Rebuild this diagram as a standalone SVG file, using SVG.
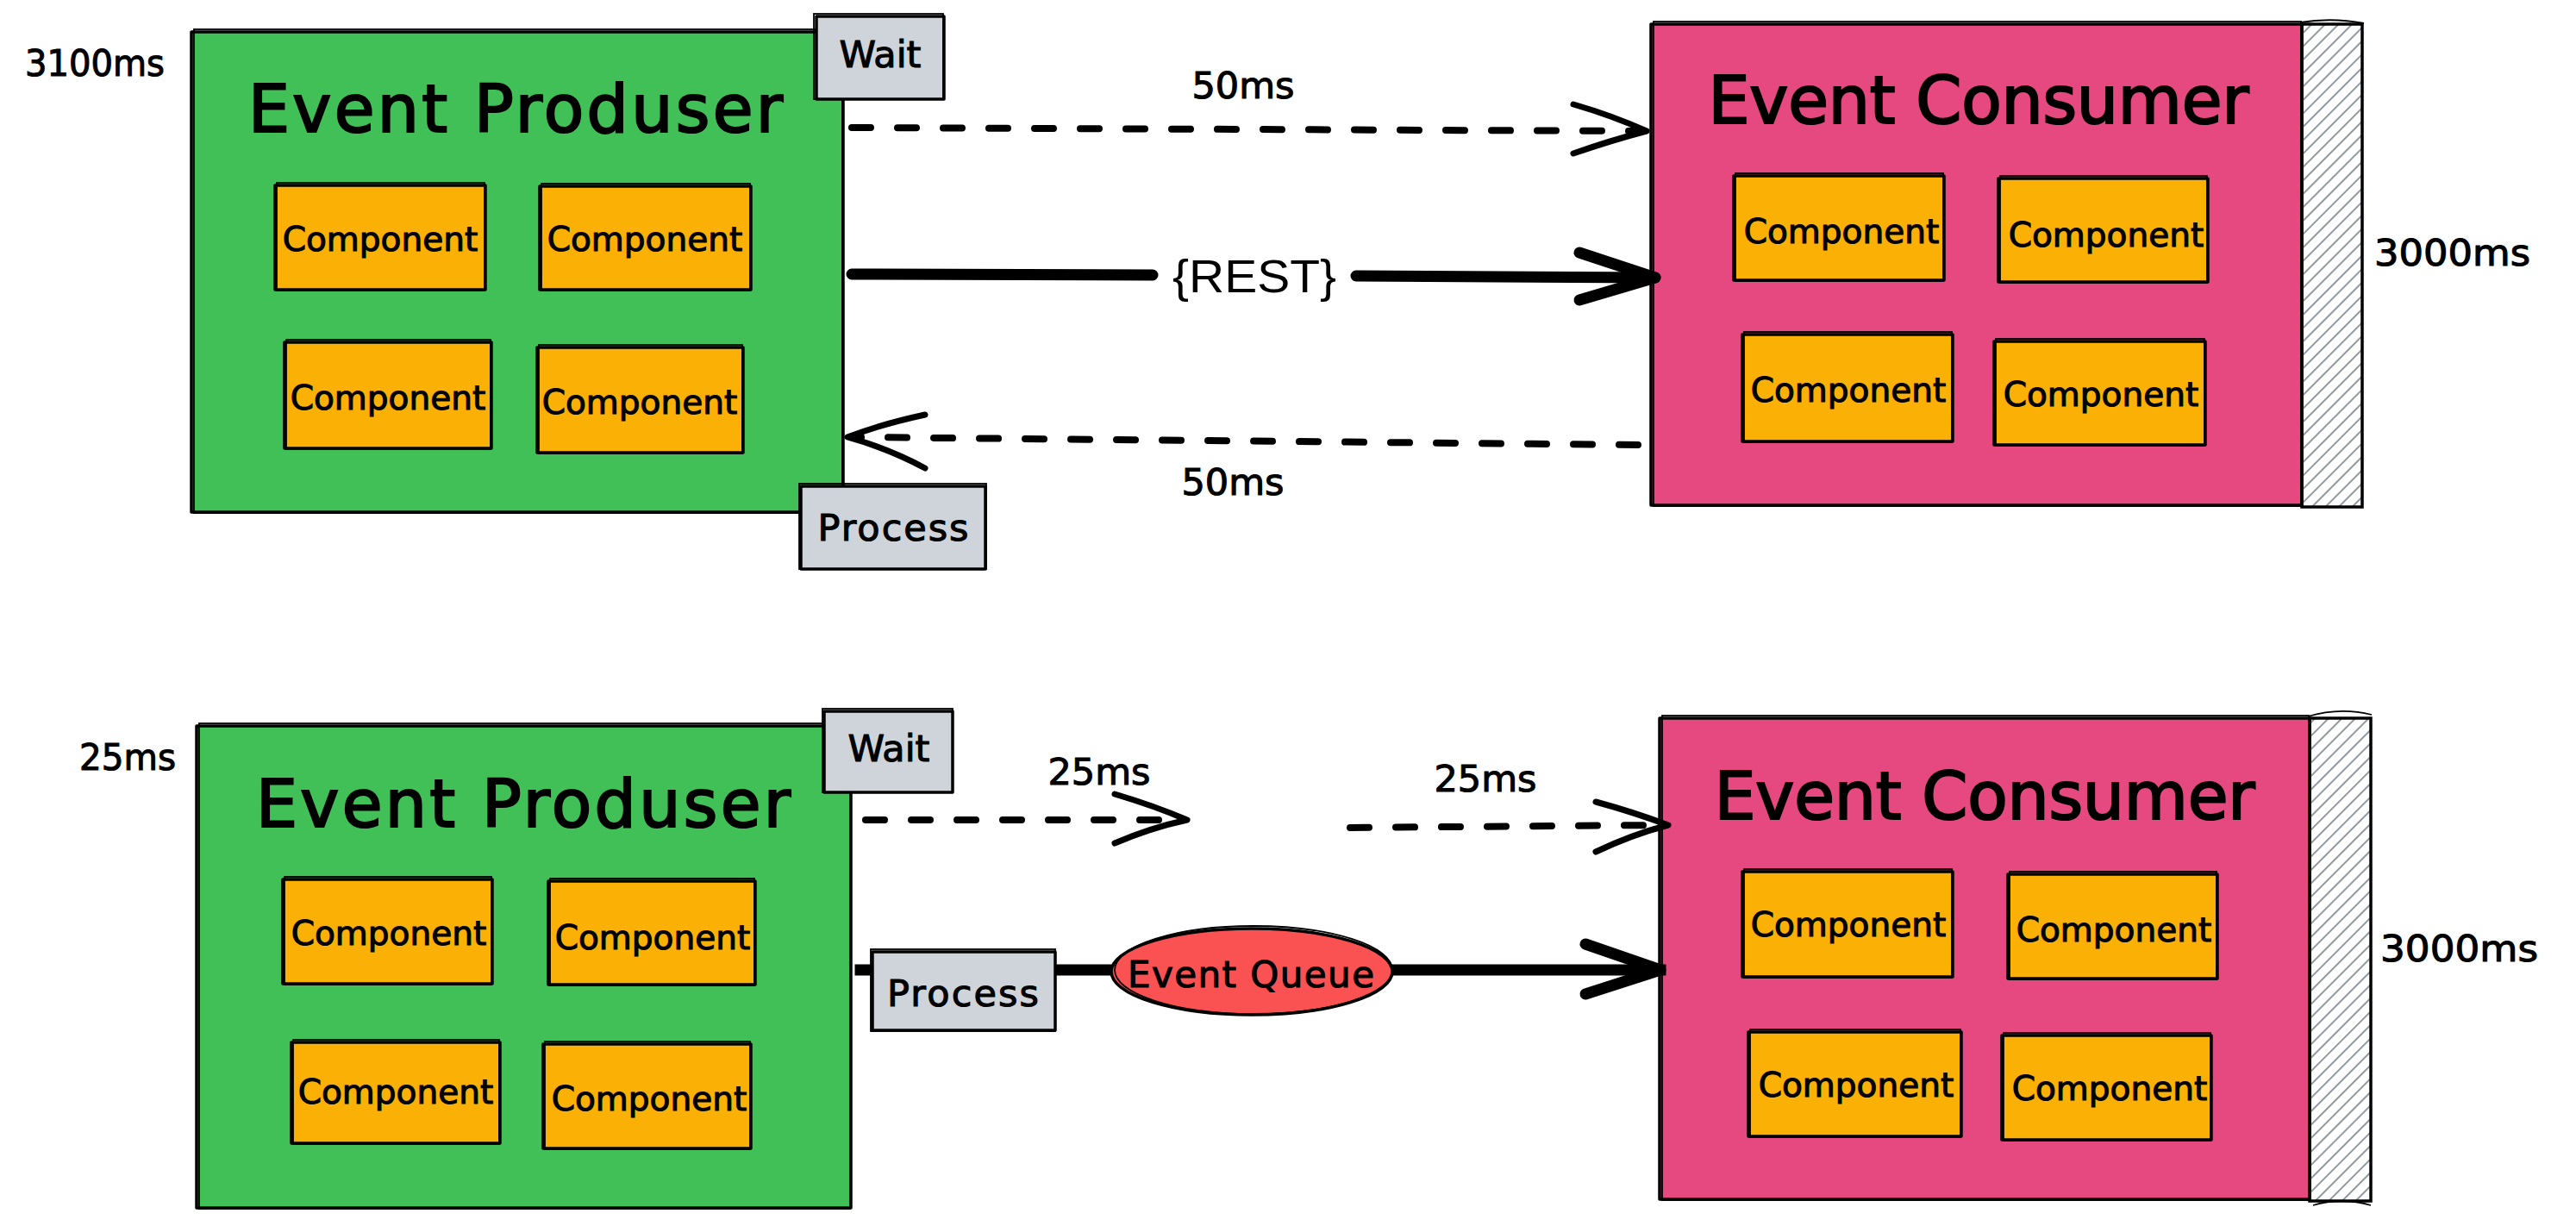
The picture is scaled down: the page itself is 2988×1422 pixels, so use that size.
<svg xmlns="http://www.w3.org/2000/svg" width="2988" height="1422" viewBox="0 0 2988 1422">
<defs>
<pattern id="hatch" patternUnits="userSpaceOnUse" width="11" height="11" patternTransform="rotate(45)">
<line x1="2" y1="0" x2="2" y2="11" stroke="#868e96" stroke-width="1.8"/>
</pattern>
</defs>
<style>
.s{stroke:#000;stroke-width:3.5;stroke-linejoin:round}
.o{fill:none;stroke:#000;stroke-width:1.8}
.green{fill:#40c057}
.pink{fill:#e64980}
.orange{fill:#fab005}
.gray{fill:#ced4da}
.red{fill:#fa5252}
.hatch{fill:url(#hatch)}
.t{font-family:"DejaVu Sans",sans-serif;fill:#000;stroke:#000;stroke-width:1.1;text-anchor:middle}
.title{font-size:76px;stroke-width:2.2}
.comp{font-size:39px}
.lbl{font-size:43px}
.ms{font-size:43px}
.start{text-anchor:start}
.rest{font-family:"Liberation Sans",Arial,sans-serif;font-size:54px;fill:#000;text-anchor:middle}
.dash{fill:none;stroke:#000;stroke-width:8;stroke-linecap:round;stroke-dasharray:22 31}
.thin{fill:none;stroke:#000;stroke-width:7;stroke-linecap:round;stroke-linejoin:round}
.thick{fill:none;stroke:#000;stroke-width:13;stroke-linecap:round;stroke-linejoin:round}
</style>
<rect width="2988" height="1422" fill="#fff"/>

<!-- ===== Top section ===== -->
<g id="producer-rest">
<rect class="green s" x="222" y="37" width="756" height="557"/>
<rect class="o" x="225" y="34" width="752" height="561"/>
<text class="t title" x="598" y="153" textLength="620" lengthAdjust="spacing">Event Produser</text>
</g>
<g id="producer-rest-comp1"><rect class="orange s" x="319" y="215" width="244" height="121"/><rect class="o" x="321" y="212" width="241" height="125"/><text class="t comp" x="441" y="291">Component</text></g>
<g id="producer-rest-comp2"><rect class="orange s" x="626" y="216" width="245" height="120"/><rect class="o" x="628" y="213" width="242" height="124"/><text class="t comp" x="748" y="291">Component</text></g>
<g id="producer-rest-comp3"><rect class="orange s" x="330" y="397" width="240" height="123"/><rect class="o" x="332" y="394" width="237" height="127"/><text class="t comp" x="450" y="475">Component</text></g>
<g id="producer-rest-comp4"><rect class="orange s" x="623" y="403" width="239" height="122"/><rect class="o" x="625" y="400" width="236" height="126"/><text class="t comp" x="742" y="480">Component</text></g>
<g id="label-3100ms"><text class="t ms start" x="29" y="88" textLength="162" lengthAdjust="spacingAndGlyphs">3100ms</text></g>

<g id="consumer-rest">
<rect class="pink s" x="1915" y="28" width="755" height="558"/>
<rect class="o" x="1918" y="25" width="751" height="562"/>
<rect class="hatch" x="2670" y="28" width="70" height="560"/>
<rect class="o" x="2670" y="28" width="70" height="560" style="stroke-width:3.5"/>
<path class="o" d="M2668,26 Q2705,20 2742,27"/>
<text class="t title" x="2295" y="143" textLength="627" lengthAdjust="spacing">Event Consumer</text>
</g>
<g id="consumer-rest-comp1"><rect class="orange s" x="2011" y="204" width="244" height="121"/><rect class="o" x="2013" y="201" width="241" height="125"/><text class="t comp" x="2136" y="282">Component</text></g>
<g id="consumer-rest-comp2"><rect class="orange s" x="2318" y="207" width="243" height="120"/><rect class="o" x="2320" y="204" width="240" height="124"/><text class="t comp" x="2443" y="286">Component</text></g>
<g id="consumer-rest-comp3"><rect class="orange s" x="2021" y="388" width="244" height="124"/><rect class="o" x="2023" y="385" width="241" height="128"/><text class="t comp" x="2144" y="466">Component</text></g>
<g id="consumer-rest-comp4"><rect class="orange s" x="2313" y="396" width="245" height="120"/><rect class="o" x="2315" y="393" width="242" height="124"/><text class="t comp" x="2437" y="471">Component</text></g>
<g id="label-3000ms-top"><text class="t ms start" x="2754" y="308" textLength="181" lengthAdjust="spacingAndGlyphs">3000ms</text></g>

<!-- ===== Bottom section ===== -->
<g id="producer-queue">
<rect class="green s" x="228" y="842" width="759" height="559"/>
<rect class="o" x="231" y="839" width="755" height="563"/>
<text class="t title" x="607" y="959" textLength="620" lengthAdjust="spacing">Event Produser</text>
</g>
<g id="producer-queue-comp1"><rect class="orange s" x="328" y="1020" width="243" height="121"/><rect class="o" x="330" y="1017" width="240" height="125"/><text class="t comp" x="451" y="1096">Component</text></g>
<g id="producer-queue-comp2"><rect class="orange s" x="636" y="1022" width="240" height="120"/><rect class="o" x="638" y="1019" width="237" height="124"/><text class="t comp" x="757" y="1101">Component</text></g>
<g id="producer-queue-comp3"><rect class="orange s" x="338" y="1209" width="242" height="117"/><rect class="o" x="340" y="1206" width="239" height="121"/><text class="t comp" x="459" y="1280">Component</text></g>
<g id="producer-queue-comp4"><rect class="orange s" x="630" y="1211" width="241" height="121"/><rect class="o" x="632" y="1208" width="238" height="125"/><text class="t comp" x="753" y="1288">Component</text></g>
<g id="label-25ms-left"><text class="t ms start" x="92" y="893" textLength="112" lengthAdjust="spacingAndGlyphs">25ms</text></g>

<g id="consumer-queue">
<rect class="pink s" x="1925" y="833" width="754" height="558"/>
<rect class="o" x="1928" y="830" width="750" height="562"/>
<rect class="hatch" x="2679" y="833" width="71" height="560"/>
<rect class="o" x="2679" y="833" width="71" height="560" style="stroke-width:3.5"/>
<path class="o" d="M2677,831 Q2714,820 2751,829"/>
<path class="o" d="M2683,1398 Q2716,1388 2750,1398"/>
<text class="t title" x="2302" y="950" textLength="627" lengthAdjust="spacing">Event Consumer</text>
</g>
<g id="consumer-queue-comp1"><rect class="orange s" x="2021" y="1011" width="244" height="122"/><rect class="o" x="2023" y="1008" width="241" height="126"/><text class="t comp" x="2144" y="1086">Component</text></g>
<g id="consumer-queue-comp2"><rect class="orange s" x="2329" y="1014" width="243" height="121"/><rect class="o" x="2331" y="1011" width="240" height="125"/><text class="t comp" x="2452" y="1092">Component</text></g>
<g id="consumer-queue-comp3"><rect class="orange s" x="2028" y="1197" width="247" height="121"/><rect class="o" x="2030" y="1194" width="244" height="125"/><text class="t comp" x="2153" y="1272">Component</text></g>
<g id="consumer-queue-comp4"><rect class="orange s" x="2322" y="1201" width="243" height="121"/><rect class="o" x="2324" y="1198" width="240" height="125"/><text class="t comp" x="2447" y="1276">Component</text></g>
<g id="label-3000ms-bottom"><text class="t ms start" x="2761" y="1115" textLength="183" lengthAdjust="spacingAndGlyphs">3000ms</text></g>

<!-- ===== Connectors ===== -->
<g id="connectors">
<path class="dash" d="M988,148 L1895,152"/>
<path class="thin" d="M1825,121 Q1870,134 1910,152 Q1868,163 1825,178"/>
<text class="t ms" x="1442" y="114">50ms</text>
<path class="thick" d="M988,318 L1337,319"/>
<path class="thick" d="M1573,320 L1920,322"/>
<path class="thick" d="M1832,293 L1920,322 L1832,348"/>
<text class="rest" x="1455" y="339" textLength="190" lengthAdjust="spacingAndGlyphs">{REST}</text>
<path class="dash" d="M1900,516 L995,507"/>
<path class="thin" d="M1073,481 Q1022,492 983,507 Q1030,520 1073,543"/>
<text class="t ms" x="1430" y="574">50ms</text>
<path class="dash" d="M1004,951 L1365,951"/>
<path class="thin" d="M1293,921 Q1340,935 1377,951 Q1335,960 1293,978"/>
<text class="t ms" x="1275" y="910">25ms</text>
<path class="dash" d="M1566,960 L1922,957"/>
<path class="thin" d="M1851,930 Q1895,942 1935,957 Q1893,968 1851,988"/>
<text class="t ms" x="1723" y="918">25ms</text>
<path class="thick" d="M998,1125 L1926,1125" style="stroke-linecap:square"/>
<path class="thick" d="M1839,1095 L1926,1125 L1839,1153"/>
</g>

<!-- ===== Labels overlaying ===== -->
<g id="wait-rest"><rect class="gray s" x="947" y="19" width="148" height="96"/><rect class="o" x="944" y="16" width="150" height="99"/><text class="t lbl" x="1021" y="78">Wait</text></g>
<g id="process-rest"><rect class="gray s" x="929" y="564" width="214" height="96"/><rect class="o" x="927" y="561" width="217" height="99"/><text class="t lbl" x="1036" y="627" textLength="175" lengthAdjust="spacing">Process</text></g>
<g id="wait-queue"><rect class="gray s" x="956" y="825" width="149" height="94"/><rect class="o" x="954" y="822" width="151" height="97"/><text class="t lbl" x="1031" y="883">Wait</text></g>
<g id="process-queue"><rect class="gray s" x="1012" y="1104" width="212" height="91"/><rect class="o" x="1010" y="1101" width="214" height="95"/><text class="t lbl" x="1117" y="1167" textLength="176" lengthAdjust="spacing">Process</text></g>
<g id="event-queue"><ellipse class="red s" cx="1452" cy="1127" rx="163" ry="50"/><ellipse class="o" cx="1454" cy="1125" rx="161" ry="51"/><text class="t" style="font-size:42px" x="1451" y="1145" textLength="286" lengthAdjust="spacing">Event Queue</text></g>
</svg>
